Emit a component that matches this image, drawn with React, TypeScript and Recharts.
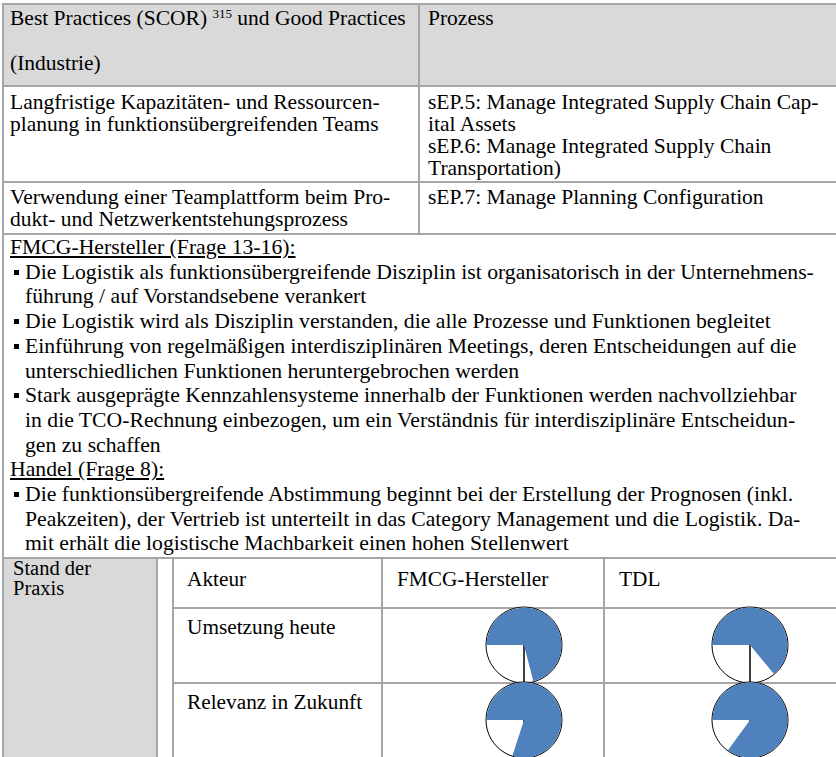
import React from "react";
import { PieChart, Pie, Cell } from "recharts";

// Harvey balls: share filled (%) per actor column
const ACTORS = ["FMCG-Hersteller", "TDL"];
const CRITERIA = ["Umsetzung heute", "Relevanz in Zukunft"];
const FILL_TODAY = [71, 64];
const FILL_FUTURE = [80, 85];

const HEAD_RIGHT = "Prozess";
const ROW1_LEFT = ["Langfristige Kapazitäten- und Ressourcen-", "planung in funktionsübergreifenden Teams"];
const ROW1_RIGHT = [
  "sEP.5: Manage Integrated Supply Chain Cap-",
  "ital Assets",
  "sEP.6: Manage Integrated Supply Chain",
  "Transportation)",
];
const ROW2_LEFT = ["Verwendung einer Teamplattform beim Pro-", "dukt- und Netzwerkentstehungsprozess"];
const ROW2_RIGHT = ["sEP.7: Manage Planning Configuration"];

type Note = { text: string; kind: "head" | "bullet" | "cont" };
const NOTES: Note[] = [
  { text: "FMCG-Hersteller (Frage 13-16):", kind: "head" },
  { text: "Die Logistik als funktionsübergreifende Disziplin ist organisatorisch in der Unternehmens-", kind: "bullet" },
  { text: "führung / auf Vorstandsebene verankert", kind: "cont" },
  { text: "Die Logistik wird als Disziplin verstanden, die alle Prozesse und Funktionen begleitet", kind: "bullet" },
  { text: "Einführung von regelmäßigen interdisziplinären Meetings, deren Entscheidungen auf die", kind: "bullet" },
  { text: "unterschiedlichen Funktionen heruntergebrochen werden", kind: "cont" },
  { text: "Stark ausgeprägte Kennzahlensysteme innerhalb der Funktionen werden nachvollziehbar", kind: "bullet" },
  { text: "in die TCO-Rechnung einbezogen, um ein Verständnis für interdisziplinäre Entscheidun-", kind: "cont" },
  { text: "gen zu schaffen", kind: "cont" },
  { text: "Handel (Frage 8):", kind: "head" },
  { text: "Die funktionsübergreifende Abstimmung beginnt bei der Erstellung der Prognosen (inkl.", kind: "bullet" },
  { text: "Peakzeiten), der Vertrieb ist unterteilt in das Category Management und die Logistik. Da-", kind: "cont" },
  { text: "mit erhält die logistische Machbarkeit einen hohen Stellenwert", kind: "cont" },
];

const BLUE = "#4f81bd";
const GRID = "#a6a6a6";
const SHADE = "#d9d9d9";

function Line({
  x,
  y,
  size = 21.5,
  children,
  underline,
}: {
  x: number;
  y: number;
  size?: number;
  children: React.ReactNode;
  underline?: boolean;
}) {
  return (
    <div
      style={{
        position: "absolute",
        left: x,
        top: y - 12,
        lineHeight: "24px",
        fontSize: size,
        whiteSpace: "nowrap",
        textDecoration: underline ? "underline" : "none",
      }}
    >
      {children}
    </div>
  );
}

function HLine({ x, y, w }: { x: number; y: number; w: number }) {
  return <div style={{ position: "absolute", left: x, top: y, width: w, height: 2, background: GRID }} />;
}
function VLine({ x, y, h }: { x: number; y: number; h: number }) {
  return <div style={{ position: "absolute", left: x, top: y, width: 2, height: h, background: GRID }} />;
}

function HarveyBall({ value, cx, cy }: { value: number; cx: number; cy: number }) {
  const data = [
    { name: "erfüllt", v: value },
    { name: "offen", v: 100 - value },
  ];
  return (
    <div style={{ position: "absolute", left: cx - 40, top: cy - 40 }}>
      <PieChart width={80} height={80} margin={{ top: 0, right: 0, bottom: 0, left: 0 }}>
        <Pie
          data={[{ v: 1 }]}
          dataKey="v"
          cx={40}
          cy={40}
          outerRadius={38}
          startAngle={-90}
          endAngle={270}
          fill="#fff"
          stroke="#000"
          strokeWidth={1}
          isAnimationActive={false}
        />
        <Pie
          data={data}
          dataKey="v"
          cx={40}
          cy={40}
          outerRadius={37.5}
          startAngle={180}
          endAngle={-180}
          stroke="none"
          isAnimationActive={false}
        >
          <Cell fill={BLUE} />
          <Cell fill="transparent" />
        </Pie>
      </PieChart>
    </div>
  );
}

export default function App() {
  const colX = [381, 603];
  const ballX = [524, 750];
  const rowY = [645, 720];
  const noteSize = 21.7;
  return (
    <div
      style={{
        position: "fixed",
        left: 0,
        top: 0,
        width: 836,
        height: 757,
        overflow: "hidden",
        background: "#fff",
        fontFamily: "'Liberation Serif', 'Times New Roman', serif",
        color: "#000",
      }}
    >
      {/* shaded cells */}
      <div style={{ position: "absolute", left: 4, top: 5, width: 840, height: 80, background: SHADE }} />
      <div style={{ position: "absolute", left: 4, top: 559, width: 152, height: 200, background: SHADE }} />

      {/* grid */}
      <HLine x={2} y={3} w={840} />
      <HLine x={2} y={85} w={840} />
      <HLine x={2} y={181} w={840} />
      <HLine x={2} y={233} w={840} />
      <HLine x={2} y={557} w={840} />
      <VLine x={2} y={3} h={760} />
      <VLine x={418} y={3} h={231} />
      <VLine x={156} y={557} h={210} />
      <VLine x={172} y={557} h={210} />
      <VLine x={colX[0]} y={557} h={210} />
      <VLine x={colX[1]} y={557} h={210} />
      <HLine x={172} y={607} w={670} />
      <HLine x={172} y={682} w={670} />

      {/* header */}
      <Line x={10} y={18}>
        Best Practices (SCOR){" "}
        <sup style={{ fontSize: 13, verticalAlign: "7px", lineHeight: 0 }}>315</sup> und Good Practices
      </Line>
      <Line x={10} y={63}>(Industrie)</Line>
      <Line x={428} y={18}>{HEAD_RIGHT}</Line>

      {ROW1_LEFT.map((t, i) => (
        <Line key={t} x={10} y={102 + i * 22}>{t}</Line>
      ))}
      {ROW1_RIGHT.map((t, i) => (
        <Line key={t} x={428} y={102 + i * 22}>{t}</Line>
      ))}
      {ROW2_LEFT.map((t, i) => (
        <Line key={t} x={10} y={197 + i * 22}>{t}</Line>
      ))}
      {ROW2_RIGHT.map((t, i) => (
        <Line key={t} x={428} y={197 + i * 22}>{t}</Line>
      ))}

      {NOTES.map((n, i) => {
        const y = 247 + i * 24.7;
        if (n.kind === "head")
          return (
            <Line key={n.text} x={10} y={y} size={noteSize} underline>
              {n.text}
            </Line>
          );
        return (
          <React.Fragment key={n.text}>
            {n.kind === "bullet" && (
              <div style={{ position: "absolute", left: 14, top: y - 2, width: 5, height: 5, background: "#000" }} />
            )}
            <Line x={25} y={y} size={noteSize}>{n.text}</Line>
          </React.Fragment>
        );
      })}

      {/* Stand der Praxis */}
      <Line x={13} y={568} size={20.5}>Stand der</Line>
      <Line x={13} y={588} size={20.5}>Praxis</Line>
      <Line x={187} y={579} size={21.3}>Akteur</Line>
      {ACTORS.map((a, i) => (
        <Line key={a} x={colX[i] + 16} y={579} size={21.3}>{a}</Line>
      ))}
      {CRITERIA.map((c, r) => (
        <Line key={c} x={187} y={rowY[r] - 18} size={21.3}>{c}</Line>
      ))}
      {FILL_TODAY.map((v, i) => (
        <HarveyBall key={"t" + i} value={v} cx={ballX[i]} cy={rowY[0]} />
      ))}
      {FILL_FUTURE.map((v, i) => (
        <HarveyBall key={"f" + i} value={v} cx={ballX[i]} cy={rowY[1]} />
      ))}
    </div>
  );
}
